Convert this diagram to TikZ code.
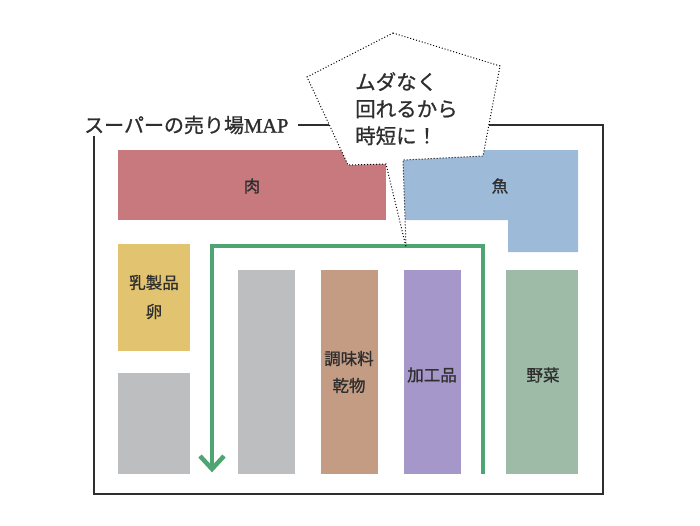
\documentclass[tikz,border=0pt]{standalone}
\usepackage{fontspec}
\usetikzlibrary{calc}
\setmainfont{Noto Sans CJK JP}[FakeBold=0.9]
\newfontfamily\mapfont{Liberation Serif}[FakeBold=1.2]
\definecolor{meat}{HTML}{C8797E}
\definecolor{fish}{HTML}{9DBAD9}
\definecolor{dairy}{HTML}{E2C36F}
\definecolor{shelfgray}{HTML}{BDBEC0}
\definecolor{spice}{HTML}{C49C84}
\definecolor{proc}{HTML}{A597C9}
\definecolor{veg}{HTML}{9DBBA7}
\definecolor{route}{HTML}{4FA572}
\definecolor{ink}{HTML}{2E2E2E}
\begin{document}
\begin{tikzpicture}[x=1pt,y=-1pt,
  lbl/.style={text=ink,font=\fontsize{16.5}{20}\selectfont,align=center,inner sep=0pt},
  bubbletxt/.style={text=ink,font=\fontsize{20.5}{27}\selectfont,align=left,inner sep=0pt}]
\useasboundingbox (0,0) rectangle (700,525);
% outer frame
\draw[ink,line width=2.5pt] (94,125) rectangle (603,494);
% title
\node[fill=white,anchor=west,inner ysep=2pt,inner xsep=0pt,text=ink,font=\fontsize{20}{22}\selectfont] (title) at (84,125) {スーパーの売り場{\mapfont\fontsize{20.5}{22}\selectfont MAP}\rule{10pt}{0pt}};
% shelves
\fill[meat] (118,150) rectangle (386,220);
\node[lbl] (meat) at (252,186) {肉};
\fill[fish] (402,150) -| (578,252) -| (508,220) -| cycle;
\node[lbl] (fish) at (500,186) {魚};
\fill[dairy] (118,244) rectangle (190,351);
\node[lbl,font=\fontsize{16.5}{29}\selectfont] (dairy) at (154,297) {乳製品\\卵};
\fill[shelfgray] (118,373) rectangle (190,474);
\fill[shelfgray] (238,270) rectangle (295,474);
\fill[spice] (321,270) rectangle (378,474);
\node[lbl,font=\fontsize{16.5}{27}\selectfont] (spice) at (349,372) {調味料\\乾物};
\fill[proc] (404,270) rectangle (461,474);
\node[lbl] (proc) at (432,375) {加工品};
\fill[veg] (506,270) rectangle (578,474);
\node[lbl] (veg) at (543,375) {野菜};
% route
\coordinate (rs) at (483,474);
\coordinate (rtr) at (483,246);
\coordinate (rtl) at (212,246);
\coordinate (re) at (212,469);
\draw[route,line width=4.5pt] (rs) -- (rtr) -- (rtl) -- (re);
\draw[route,line width=4.5pt] ($(re)+(-12,-13)$) -- (re) -- ($(re)+(12,-13)$);
% speech bubble
\draw[black,dotted,line width=1pt,fill=white]
  (393,33) -- (500,66) -- (483,156) -- (403,160) -- (406,247) -- (386,164) -- (348,165) -- (307,77) -- cycle;
\node[bubbletxt,anchor=north west] (bub) at (355,72) {ムダなく\\回れるから\\時短に！};
\end{tikzpicture}
\end{document}
